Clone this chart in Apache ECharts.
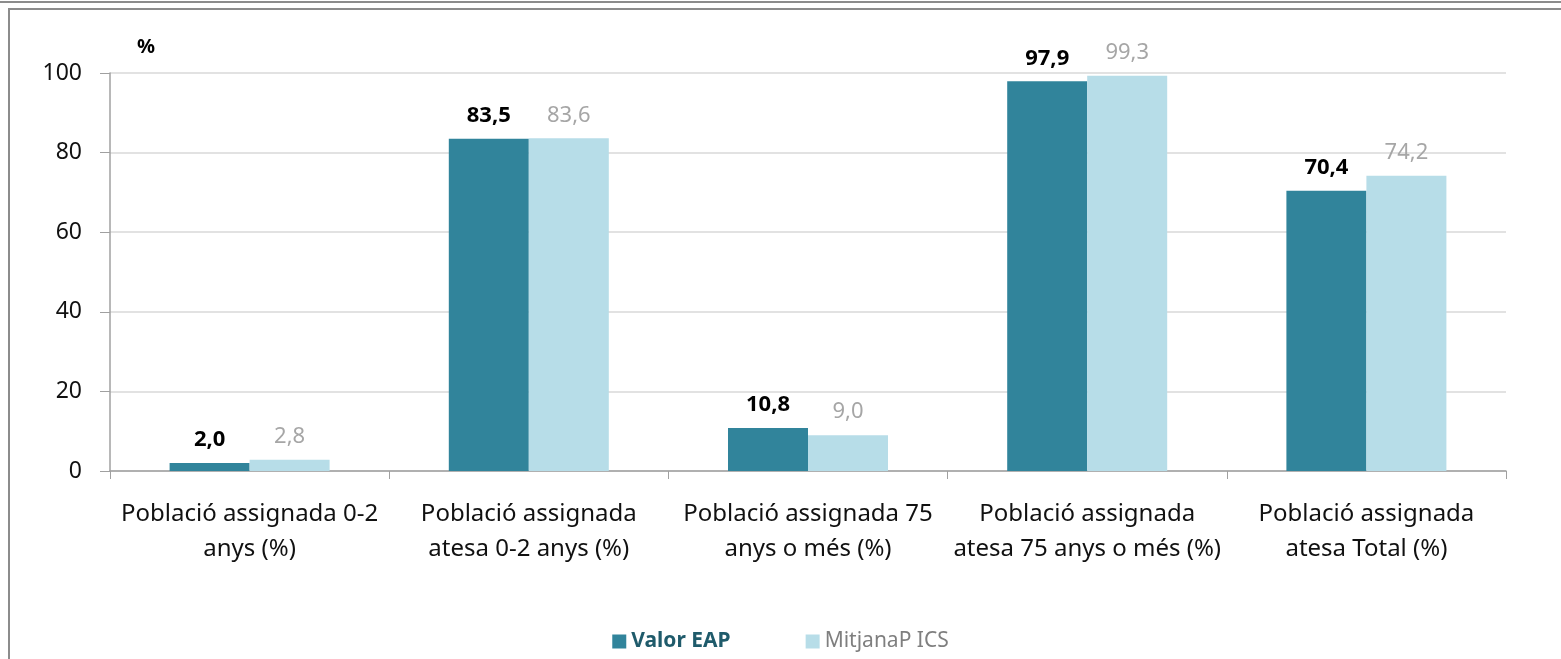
<!DOCTYPE html>
<html>
<head>
<meta charset="utf-8">
<title>Població assignada</title>
<script src="https://cdn.jsdelivr.net/npm/echarts@6/dist/echarts.min.js"></script>
<style>
  html, body { margin: 0; padding: 0; background: #fff; }
  #chart { width: 1561px; height: 659px; }
</style>
</head>
<body>
<div id="chart"></div>
<script>
// dades
var categories = [
  'Població assignada 0-2\nanys (%)',
  'Població assignada\natesa 0-2 anys (%)',
  'Població assignada 75\nanys o més (%)',
  'Població assignada\natesa 75 anys o més (%)',
  'Població assignada\natesa Total (%)'
];
var valorEAP = [2.0, 83.5, 10.8, 97.9, 70.4];
var mitjanaICS = [2.8, 83.6, 9.0, 99.3, 74.2];
var yTicks = [0, 20, 40, 60, 80, 100];

var fontFam = '"Noto Sans", "Open Sans", sans-serif';
var chart = echarts.init(document.getElementById('chart'));

function fmt(p) {
  return p.value.toFixed(1).replace('.', ',');
}

var option = {
  animation: false,
  textStyle: { fontFamily: fontFam },
  graphic: [
    { type: 'rect', shape: { x: 0, y: 1, width: 1561, height: 2 }, style: { fill: '#8c8c8c' } },
    { type: 'rect', shape: { x: 8, y: 8, width: 1553, height: 2 }, style: { fill: '#8c8c8c' } },
    { type: 'rect', shape: { x: 8, y: 8, width: 2, height: 651 }, style: { fill: '#8c8c8c' } },
    { type: 'text', left: 137, top: 37, style: { text: '%', font: 'bold 20px ' + fontFam, fill: '#000' } }
  ],
  grid: { left: 110, right: 55, top: 73, bottom: 188 },
  legend: {
    bottom: 2,
    left: 'center',
    itemWidth: 14,
    itemHeight: 14,
    itemGap: 75,
    icon: 'rect',
    data: [
      { name: 'Valor EAP', textStyle: { color: '#1f5b6b', fontWeight: 'bold' } },
      { name: 'MitjanaP ICS', textStyle: { color: '#7f7f7f' } }
    ],
    textStyle: { fontSize: 21, fontFamily: fontFam }
  },
  xAxis: {
    type: 'category',
    data: categories,
    axisLine: { lineStyle: { color: '#a0a0a0', width: 1.5 } },
    axisTick: { show: true, length: 8, lineStyle: { color: '#a0a0a0' } },
    axisLabel: { color: '#111', fontSize: 24, lineHeight: 35, margin: 26, interval: 0 }
  },
  yAxis: {
    type: 'value',
    min: yTicks[0],
    max: yTicks[yTicks.length - 1],
    interval: 20,
    axisLine: { show: true, lineStyle: { color: '#a0a0a0', width: 1.5 } },
    axisTick: { show: true, length: 10, inside: false, lineStyle: { color: '#a0a0a0' } },
    axisLabel: { color: '#111', fontSize: 23, margin: 28 },
    splitLine: { lineStyle: { color: '#d9d9d9', width: 1.5 } }
  },
  series: [
    {
      name: 'Valor EAP',
      type: 'bar',
      data: valorEAP,
      barWidth: 80,
      barGap: '0%',
      itemStyle: { color: '#31849b' },
      label: { show: true, position: 'top', distance: 12, formatter: fmt,
        color: '#000', fontWeight: 'bold', fontSize: 22 }
    },
    {
      name: 'MitjanaP ICS',
      type: 'bar',
      data: mitjanaICS,
      barWidth: 80,
      itemStyle: { color: '#b7dde8' },
      label: { show: true, position: 'top', distance: 12, formatter: fmt,
        color: '#a6a6a6', fontSize: 22 }
    }
  ]
};
chart.setOption(option);
</script>
</body>
</html>
